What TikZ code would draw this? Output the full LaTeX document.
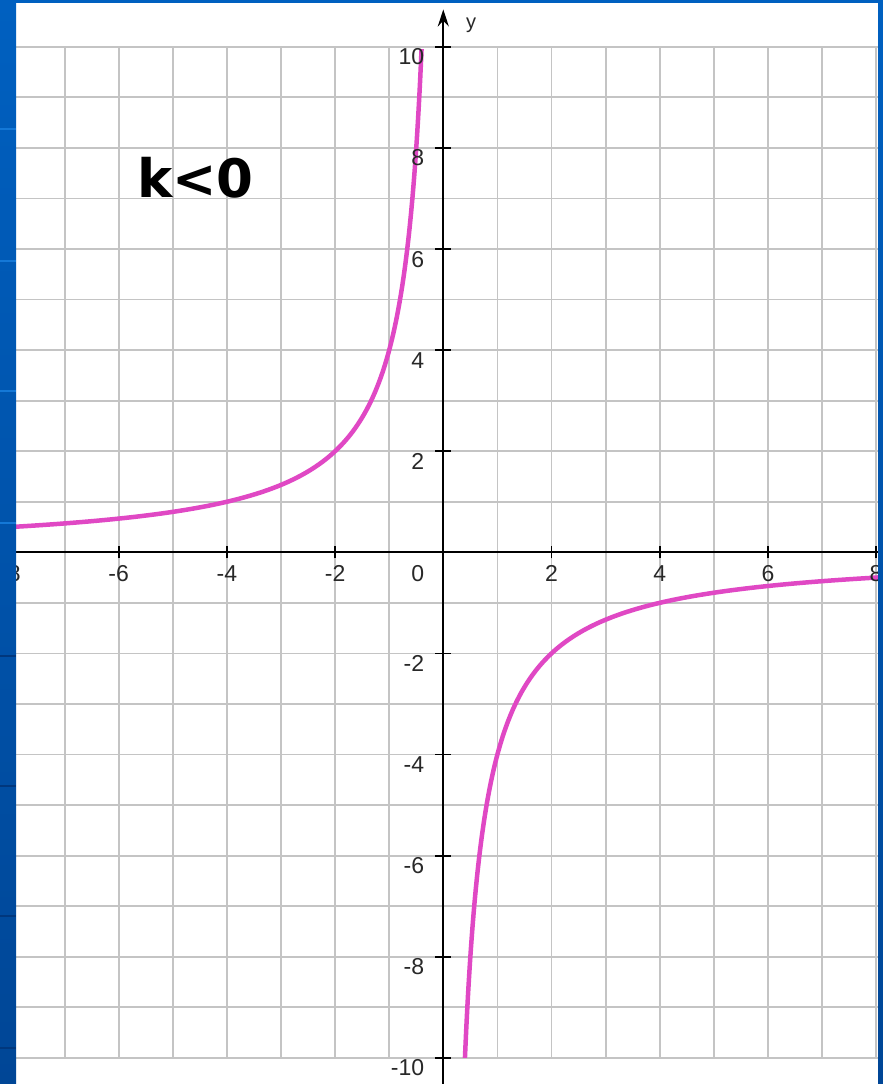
\documentclass[tikz,border=0pt]{standalone}
\usepackage{fontspec}
\setmainfont{Liberation Sans}
\newfontfamily\kfont{DejaVu Sans}
\usetikzlibrary{arrows.meta}
\definecolor{gridgray}{RGB}{196,196,196}
\definecolor{curvepink}{RGB}{224,72,196}
\definecolor{frametop}{RGB}{0,96,192}
\definecolor{framebot}{RGB}{0,70,150}
\definecolor{framelight}{RGB}{20,120,215}
\definecolor{framedark}{RGB}{0,55,125}
\definecolor{labelgray}{RGB}{40,40,40}
\tikzset{
  gridline/.style={draw=gridgray, line width=1.8pt},
  axisline/.style={draw=black, line width=2.2pt},
  tickline/.style={draw=black, line width=1.8pt},
  curveline/.style={draw=curvepink, line width=4.5pt, line join=round},
  ticklabel/.style={font=\fontsize{23}{23}\selectfont, text=labelgray, inner sep=0pt},
  framestrip/.style={top color=frametop, bottom color=framebot, draw=none},
}
\begin{document}
\begin{tikzpicture}[x=1pt,y=-1pt]
\useasboundingbox (0,0) rectangle (883,1084);
\fill[white] (0,0) rectangle (883,1084);
\begin{scope}[shift={(443.3,552.3)}, x=54.1pt, y=50.55pt]
  \foreach \i in {-8,...,8}
    \draw[gridline] (\i,-10) -- (\i,10);
  \foreach \j in {-10,...,10}
    \draw[gridline] (-8.5,\j) -- (8.5,\j);
  \draw[curveline] plot[domain=-8.5:-0.4, samples=300, smooth] (\x,{-4/\x});
  \draw[curveline] plot[domain=0.4:8.5, samples=300, smooth] (\x,{-4/\x});
  \coordinate (xl) at (-8.5,0);
  \coordinate (xr) at (8.5,0);
  \coordinate (yb) at (0,-10.6);
  \coordinate (yt) at (0,10.74);
  \draw[axisline] (xl) -- (xr);
  \draw[axisline, -{Stealth[length=17pt,width=11pt]}] (yb) -- (yt);
  \foreach \i in {-8,-6,-4,-2,2,4,6,8}
    \draw[tickline] (\i,-0.12) -- (\i,0.12);
  \foreach \j in {-10,-8,-6,-4,-2,2,4,6,8,10}
    \draw[tickline] (-0.15,\j) -- (0.15,\j);
  \foreach \i [count=\n] in {-8,-6,-4,-2,2,4,6,8}
    \node[ticklabel] (xlab\n) at (\i,-0.42) {\i};
  \node[ticklabel] (xlab0) at (-0.47,-0.42) {0};
  \foreach \j [count=\n] in {-10,-8,-6,-4,-2,2,4,6,8,10}
    \node[ticklabel, anchor=east] (ylab\n) at (-0.35,\j-0.2) {\j};
\end{scope}
\node[font=\fontsize{20}{20}\selectfont, text=labelgray, inner sep=0pt] (yname) at (471,25) {y};
\node[font=\kfont\bfseries\fontsize{53}{53}\selectfont, anchor=base, inner sep=0pt] (ktext) at (195.5,197) {k<0};
% frame
\shade[framestrip] (0,0) rectangle (16,1084);
\shade[framestrip] (878,0) rectangle (883,1084);
\fill[frametop] (0,0) rectangle (883,3);
\foreach \yy in {128,260,390,522}
  \fill[framelight] (0,\yy) rectangle (16,\yy+2);
\foreach \yy in {655,785,915,1047}
  \fill[framedark] (0,\yy) rectangle (16,\yy+2);
\end{tikzpicture}
\end{document}
